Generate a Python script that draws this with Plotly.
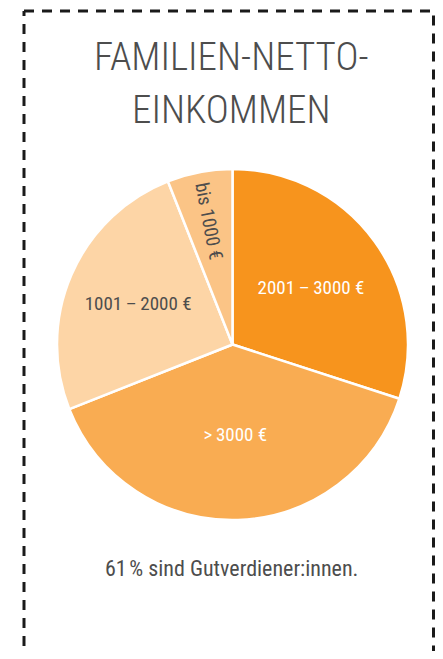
import plotly.graph_objects as go

# The page body has an 8px margin; keep the figure inside the window so no scrollbars appear.
OFF = 8
W, H = 443 - 2 * OFF, 659 - 2 * OFF

categories = ["2001\u2009\u2013\u20093000\u00a0€", ">\u20093000\u00a0€", "1001\u2009\u2013\u20092000\u00a0€", "bis 1000\u00a0€"]
values = [30, 39, 25, 6]
colors = ["#F7941D", "#F9AC52", "#FDD5A6", "#FBC486"]
text_colors = ["#FFFFFF", "#FFFFFF", "#4D4D4D", "#4D4D4D"]
title_lines = ["FAMILIEN-NETTO-", "EINKOMMEN"]
caption = "61\u202f% sind Gutverdiener:innen."

FONT = "Liberation Sans Narrow, Roboto Condensed, Arial Narrow, Roboto, sans-serif"


def px(x):
    return (x - OFF) / W


def py(y):
    return 1 - (y - OFF) / H


# pie placement (page pixels)
cx, cy, r = 232.5, 344.5, 175.5

fig = go.Figure(go.Pie(
    labels=categories,
    values=values,
    sort=False,
    direction="clockwise",
    rotation=0,
    marker=dict(colors=colors, line=dict(color="white", width=2.5)),
    textinfo="label",
    textposition="inside",
    insidetextorientation="auto",
    textfont=dict(family=FONT, size=19, color=text_colors),
    hoverinfo="label+percent",
    showlegend=False,
    domain=dict(x=[px(cx - r), px(cx + r)], y=[py(cy + r), py(cy - r)]),
))

left, right, top = 24, 433.5, 11
dash = "10px,8px"
fig.add_shape(type="path", xref="paper", yref="paper",
              path=f"M {px(left)} {py(700)} L {px(left)} {py(top)}",
              line=dict(color="#1A1A1A", width=3, dash=dash))
fig.add_shape(type="path", xref="paper", yref="paper",
              path=f"M {px(left)} {py(top)} L {px(right)} {py(top)} L {px(right)} {py(700)}",
              line=dict(color="#1A1A1A", width=3, dash=dash))

for line, yc in zip(title_lines, [57, 110]):
    fig.add_annotation(text=line, x=px(231), y=py(yc), xref="paper", yref="paper",
                       showarrow=False, xanchor="center", yanchor="middle",
                       font=dict(family=FONT, size=39, color="#4D4D4D", weight=300))
fig.add_annotation(text=caption, x=px(231), y=py(568), xref="paper", yref="paper",
                   showarrow=False, xanchor="center", yanchor="middle",
                   font=dict(family=FONT, size=22, color="#4D4D4D"))

fig.update_layout(width=W, height=H, margin=dict(l=0, r=0, t=0, b=0),
                  paper_bgcolor="white", plot_bgcolor="white")

fig.write_html("out.html")
